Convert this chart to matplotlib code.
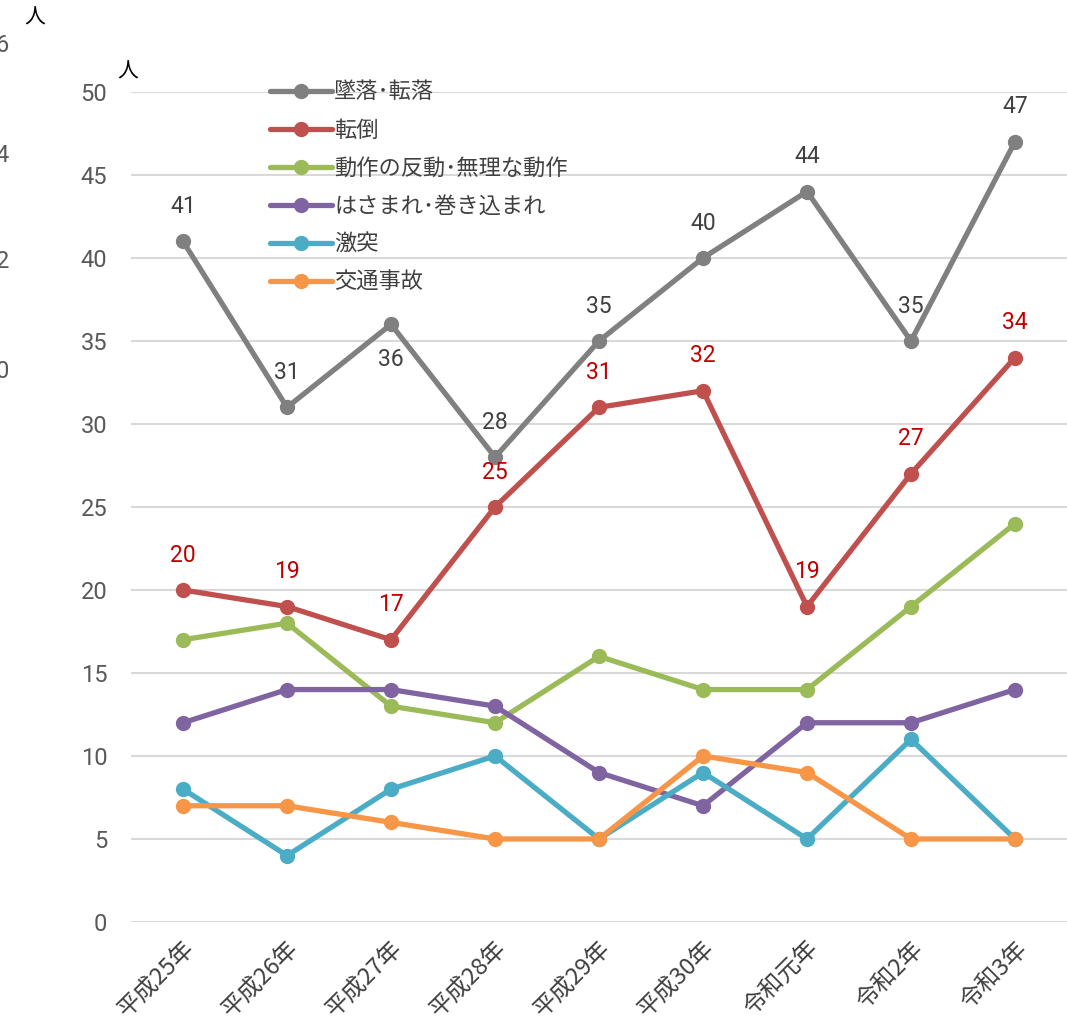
import matplotlib
matplotlib.use('Agg')
import matplotlib.pyplot as plt

plt.rcParams['font.family'] = ['Roboto', 'Noto Sans CJK JP', 'DejaVu Sans']

years = ['平成25年', '平成26年', '平成27年', '平成28年', '平成29年',
         '平成30年', '令和元年', '令和2年', '令和3年']

fall = [41, 31, 36, 28, 35, 40, 44, 35, 47]
tumble = [20, 19, 17, 25, 31, 32, 19, 27, 34]
motion = [17, 18, 13, 12, 16, 14, 14, 19, 24]
caught = [12, 14, 14, 13, 9, 7, 12, 12, 14]
collision = [8, 4, 8, 10, 5, 9, 5, 11, 5]
traffic = [7, 7, 6, 5, 5, 10, 9, 5, 5]

names = ['墜落･転落', '転倒', '動作の反動･無理な動作', 'はさまれ･巻き込まれ', '激突', '交通事故']
colors = ['#808080', '#C0504D', '#9BBB59', '#8064A2', '#4BACC6', '#F79646']
series = [fall, tumble, motion, caught, collision, traffic]

# label offset for the grey series: one label sits below its point
fall_below = [False, False, True, False, False, False, False, False, False]

fig = plt.figure(figsize=(10.67, 10.26), dpi=100)
ax = fig.add_axes([0.1228, 0.1014, 0.8772, 0.8090])

x = list(range(len(years)))
for vals, name, c in zip(series, names, colors):
    ax.plot(x, vals, color=c, linewidth=3.8, marker='o', markersize=10,
            label=name, solid_capstyle='round', zorder=3)

for i, v in enumerate(fall):
    dy = -2.1 if fall_below[i] else 2.1
    ax.text(i, v + dy, str(v), ha='center', va='center', fontsize=16.5,
            color='#404040', zorder=4)
for i, v in enumerate(tumble):
    ax.text(i, v + 2.1, str(v), ha='center', va='center', fontsize=16.5,
            color='#C00000', zorder=4)

ax.set_xlim(-0.5, 8.5)
ax.set_ylim(0, 50)
ax.set_yticks(range(0, 51, 5))
ax.set_xticks(x)
ax.set_xticklabels(years, rotation=45, ha='right', va='top',
                   rotation_mode='anchor', fontsize=17, color='#404040',
                   family=['Noto Sans CJK JP', 'DejaVu Sans'])
ax.tick_params(axis='y', labelsize=17, labelcolor='#595959', length=0, pad=17)
ax.tick_params(axis='x', length=0, pad=11)
ax.grid(axis='y', color='#D9D9D9', linewidth=1.5, zorder=0)
for s in ax.spines.values():
    s.set_visible(False)

fig.text(128 / 1067, 1 - 72 / 1026, '人', fontsize=15, ha='center', va='center',
         family=['Noto Sans CJK JP'])
fig.text(35 / 1067, 1 - 18 / 1026, '人', fontsize=15, ha='center', va='center',
         family=['Noto Sans CJK JP'])
for lab, yy in zip(['6', '4', '2', '0'], [45, 155, 262, 372]):
    fig.text(9 / 1067, 1 - yy / 1026, lab, fontsize=17, color='#595959',
             ha='right', va='center')

leg = ax.legend(loc='upper left', bbox_to_anchor=(0.127, 1.038), frameon=False,
                prop={'family': ['Noto Sans CJK JP', 'DejaVu Sans'], 'size': 16},
                handlelength=2.8, handletextpad=0.1, labelspacing=0.68,
                labelcolor='#404040')

fig.savefig('out.png', dpi=100)
